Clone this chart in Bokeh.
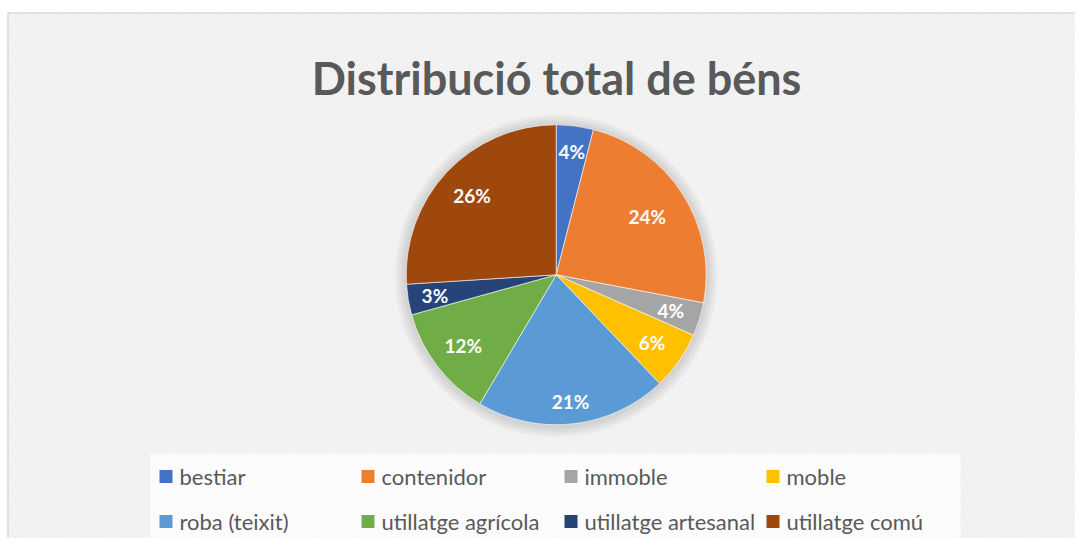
import math
from bokeh.plotting import figure
from bokeh.models import Range1d, ColumnDataSource
from bokeh.core.properties import value
from bokeh.embed import file_html
from bokeh.resources import INLINE

# ---- data ----
categories = ["bestiar", "contenidor", "immoble", "moble",
              "roba (teixit)", "utillatge agrícola", "utillatge artesanal", "utillatge comú"]
shares = [4.0, 24.0, 3.6, 6.3, 20.6, 12.2, 3.3, 26.0]
colors = ["#4472C4", "#ED7D31", "#A5A5A5", "#FFC000",
          "#5B9BD5", "#70AD47", "#264478", "#9E480E"]
title_text = "Distribució total de béns"

# label placement (fraction of radius), style only
label_pos = [0.83, 0.72, 0.80, 0.78, 0.85, 0.78, 0.82, 0.77]

W, H = 1075, 538
def sx(x): return x
def sy(y): return H - y

p = figure(width=W, height=H, output_backend="svg", toolbar_location=None,
           x_range=Range1d(0, W), y_range=Range1d(0, H),
           x_axis_type=None, y_axis_type=None, min_border=0)
p.outline_line_color = None
p.grid.visible = False
p.background_fill_color = "white"
p.border_fill_color = "white"

# chart area with hatch and border
p.quad(left=[sx(7.5)], right=[sx(1200)], bottom=[sy(700)], top=[sy(12.5)],
       fill_color="white", hatch_pattern="left_diagonal_line",
       hatch_color="#ececec", hatch_scale=5, hatch_weight=1.6,
       line_color="#d9d9d9", line_width=1.5)

# title
p.text(x=[sx(556)], y=[sy(77)], text=[title_text], text_font=value("Lato"),
       text_font_style="bold", text_font_size="45px", text_color="#595959",
       text_align="center", text_baseline="alphabetic")

# pie
cx, cy, r = sx(555.7), sy(274.3), 150
for k in range(1, 13):
    p.circle(x=[cx], y=[cy - 1], radius=r + k, radius_units="screen",
             fill_color="#808080", fill_alpha=0.022, line_color=None)

total = sum(shares)
starts, ends, lx, ly, labels = [], [], [], [], []
cum = 0.0
for s, f in zip(shares, label_pos):
    a0 = math.pi / 2 - 2 * math.pi * cum / total
    cum += s
    a1 = math.pi / 2 - 2 * math.pi * cum / total
    starts.append(a0); ends.append(a1)
    mid = (a0 + a1) / 2
    lx.append(cx + f * r * math.cos(mid))
    ly.append(cy + f * r * math.sin(mid))
    labels.append(f"{round(100 * s / total)}%")

src = ColumnDataSource(dict(start=starts, end=ends, color=colors))
p.wedge(x=cx, y=cy, radius=r, radius_units="screen", start_angle="start",
        end_angle="end", direction="clock", fill_color="color",
        line_color="white", line_width=0.6, source=src)
p.text(x=lx, y=ly, text=labels, text_font=value("Lato"), text_font_style="bold",
       text_font_size="19px", text_color="white", text_align="center",
       text_baseline="middle")

# legend box
p.quad(left=[sx(150)], right=[sx(960)], bottom=[sy(540)], top=[sy(453)],
       fill_color="#fdfdfd", fill_alpha=0.9, line_color=None)
col_x = [159, 361, 564, 766]
row_y = [476, 521]
sq_x, sq_y, tx, ty = [], [], [], []
for i, c in enumerate(categories):
    col, row = i % 4, i // 4
    sq_x.append(sx(col_x[col] + 6.5)); sq_y.append(sy(row_y[row]))
    tx.append(sx(col_x[col] + 20)); ty.append(sy(row_y[row]))
p.rect(x=sq_x, y=sq_y, width=13, height=13, width_units="screen",
       height_units="screen", fill_color=colors, line_color=None)
p.text(x=tx, y=ty, text=categories, text_font=value("Lato"), text_font_size="22px",
       text_color="#595959", text_align="left", text_baseline="middle")

open("out.html", "w").write(file_html(p, INLINE))
